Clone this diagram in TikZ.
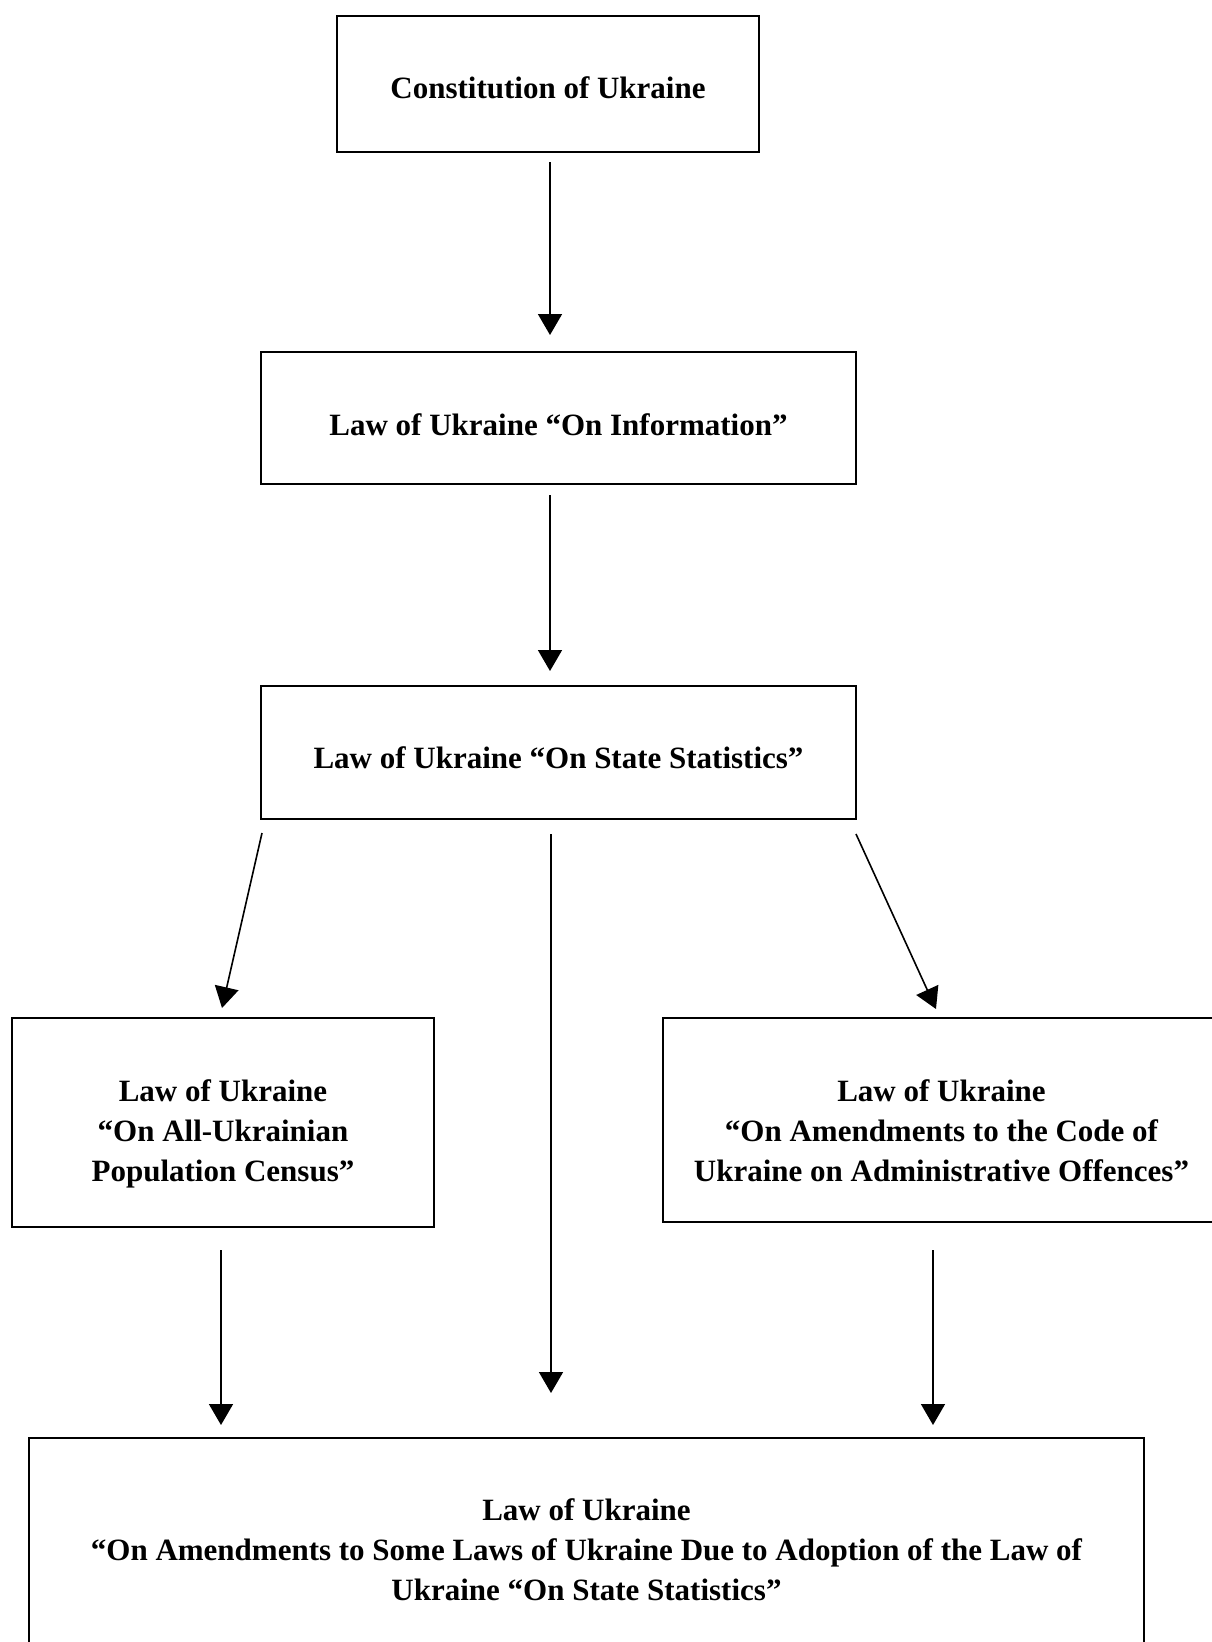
\documentclass[tikz,border=0pt]{standalone}
\usepackage{fontspec}
\setmainfont{Liberation Serif}
\usetikzlibrary{arrows.meta}
\begin{document}
\begin{tikzpicture}[x=1pt,y=-1pt,
  lawbox/.style={draw=black, line width=1.6pt, inner sep=0pt},
  lawtext/.style={align=center, inner sep=0pt,
    font=\fontsize{31}{40}\selectfont\bfseries},
  conn/.style={line width=1.6pt, -{Triangle[length=21pt,width=24pt]}}]
\useasboundingbox (0,0) rectangle (1212,1642);
\fill[white] (0,0) rectangle (1212,1642);
% boxes
\node[lawbox, minimum width=422pt, minimum height=136pt] (b1) at (548,84) {};
\node[lawbox, minimum width=595pt, minimum height=132pt] (b2) at (558.5,418) {};
\node[lawbox, minimum width=595pt, minimum height=133pt] (b3) at (558.5,752.5) {};
\node[lawbox, minimum width=422pt, minimum height=209pt] (b4) at (223,1122.5) {};
\node[lawbox, minimum width=557pt, minimum height=204pt] (b5) at (941.5,1120) {};
\node[lawbox, minimum width=1115pt, minimum height=224pt] (b6) at (586.5,1550) {};
% texts
\node[lawtext] (t1) at ([yshift=-4pt]b1.center) {Constitution of Ukraine};
\node[lawtext] (t2) at ([yshift=-7pt]b2.center) {Law of Ukraine “On Information”};
\node[lawtext] (t3) at ([yshift=-5pt]b3.center) {Law of Ukraine “On State Statistics”};
\node[lawtext] (t4) at ([yshift=-11pt]b4.center) {Law of Ukraine\\“On All-Ukrainian\\Population Census”};
\node[lawtext] (t5) at ([yshift=-11pt]b5.center) {Law of Ukraine\\“On Amendments to the Code of\\Ukraine on Administrative Offences”};
\node[lawtext] (t6) at (b6.center) {Law of Ukraine\\“On Amendments to Some Laws of Ukraine Due to Adoption of the Law of\\Ukraine “On State Statistics”};
% arrow end points (arrows do not touch the boxes)
\coordinate (a1s) at (550,162);  \coordinate (a1e) at (550,335);
\coordinate (a2s) at (550,495);  \coordinate (a2e) at (550,671);
\coordinate (a3s) at (262,833);  \coordinate (a3e) at (222,1008);
\coordinate (a4s) at (551,834);  \coordinate (a4e) at (551,1393);
\coordinate (a5s) at (856,834);  \coordinate (a5e) at (936,1009);
\coordinate (a6s) at (221,1250); \coordinate (a6e) at (221,1425);
\coordinate (a7s) at (933,1250); \coordinate (a7e) at (933,1425);
\draw[conn] (a1s) -- (a1e);
\draw[conn] (a2s) -- (a2e);
\draw[conn] (a3s) -- (a3e);
\draw[conn] (a4s) -- (a4e);
\draw[conn] (a5s) -- (a5e);
\draw[conn] (a6s) -- (a6e);
\draw[conn] (a7s) -- (a7e);
\end{tikzpicture}
\end{document}
